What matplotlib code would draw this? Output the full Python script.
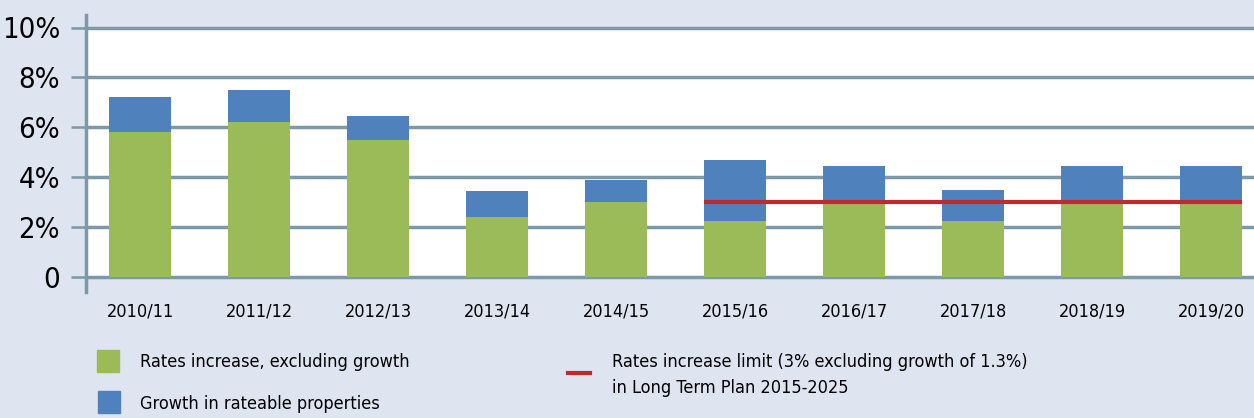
import matplotlib.pyplot as plt
from matplotlib.lines import Line2D
from matplotlib.patches import Rectangle

# data
years = ['2010/11', '2011/12', '2012/13', '2013/14', '2014/15',
         '2015/16', '2016/17', '2017/18', '2018/19', '2019/20']
rates_excl = [5.8, 6.2, 5.5, 2.4, 3.0, 2.25, 3.0, 2.25, 3.0, 3.0]
growth = [1.4, 1.3, 0.95, 1.05, 0.88, 2.45, 1.45, 1.25, 1.45, 1.45]
limit_start = 5
limit_value = 3.0
yticks = [0, 2, 4, 6, 8, 10]
ylabels = ['0', '2%', '4%', '6%', '8%', '10%']

green = '#9bbb59'
blue = '#4f81bd'
red = '#be2a2e'
grid = '#7d98a7'
bg = '#dfe4f1'
font = dict(family='DejaVu Sans', stretch='condensed')

W, H = 1254, 418
fig = plt.figure(figsize=(W / 100, H / 100), dpi=100, facecolor=bg)
ax = fig.add_axes([86 / W, 1 - 277 / H, (W - 86) / W, (277 - 27.5) / H])
ax.set_facecolor('white')

x = list(range(len(years)))
ax.bar(x, rates_excl, width=0.52, color=green, zorder=3)
ax.bar(x, growth, width=0.52, bottom=rates_excl, color=blue, zorder=3)
ax.hlines(limit_value, limit_start - 0.26, len(years) - 1 + 0.26, color=red, lw=3, zorder=4)

ax.set_xlim(-0.454, 9.36)
ax.set_ylim(0, 10)
for v in yticks:
    ax.axhline(v, color=grid, lw=2.5, zorder=2, clip_on=False)

for s in ax.spines.values():
    s.set_visible(False)
ax.add_line(Line2D([0, 0], [-0.06, 1.05], transform=ax.transAxes,
                   color=grid, lw=2.5, clip_on=False, zorder=5))

ax.set_yticks(yticks)
ax.set_yticklabels(ylabels, fontsize=21, **font)
ax.tick_params(axis='y', length=10.8, width=1.8, color=grid, pad=8)
ax.set_xticks(x)
ax.set_xticklabels(years, fontsize=13, **font)
ax.tick_params(axis='x', length=0, pad=18)

# legend
fig.patches.append(Rectangle((97 / W, 1 - 372 / H), 22 / W, 22 / H,
                             transform=fig.transFigure, color=green))
fig.patches.append(Rectangle((98 / W, 1 - 413 / H), 22 / W, 22 / H,
                             transform=fig.transFigure, color=blue))
fig.lines.append(Line2D([568 / W, 590 / W], [1 - 373 / H, 1 - 373 / H],
                        transform=fig.transFigure, color=red, lw=3))
fig.text(140 / W, 1 - 362 / H, 'Rates increase, excluding growth', fontsize=13,
         va='center', **font)
fig.text(140 / W, 1 - 404 / H, 'Growth in rateable properties', fontsize=13,
         va='center', **font)
fig.text(612 / W, 1 - 362 / H, 'Rates increase limit (3% excluding growth of 1.3%)',
         fontsize=13, va='center', **font)
fig.text(612 / W, 1 - 388 / H, 'in Long Term Plan 2015-2025', fontsize=13,
         va='center', **font)

fig.savefig('out.png', dpi=100, facecolor=bg)
